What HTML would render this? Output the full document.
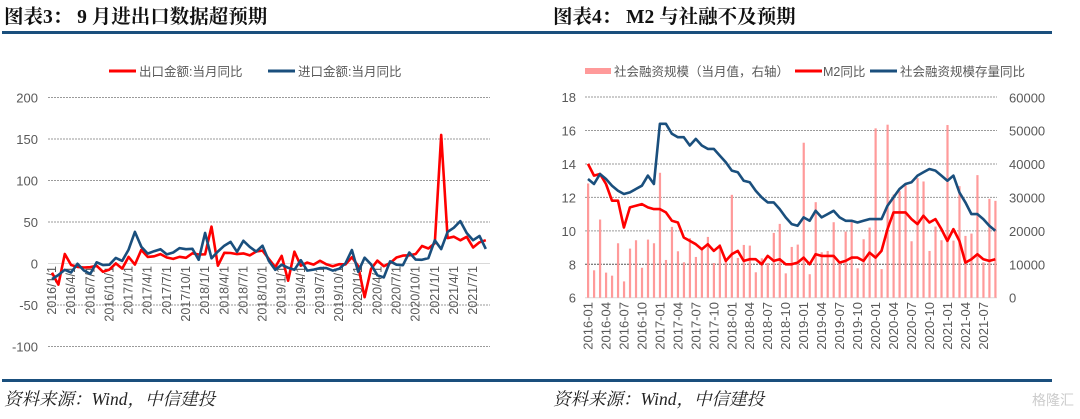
<!DOCTYPE html>
<html><head><meta charset="utf-8">
<style>
html,body{margin:0;padding:0;background:#fff;}
svg{display:block;}
.title{font-family:"Liberation Serif","Noto Serif CJK SC",serif;font-weight:bold;font-size:19.5px;fill:#111;}
.src{font-family:"Liberation Serif","Noto Serif CJK SC",serif;font-style:italic;font-size:17.5px;fill:#222;}
.tick{font-family:"Liberation Sans","Noto Sans CJK SC",sans-serif;font-size:13px;fill:#595959;}
.xt{font-family:"Liberation Sans","Noto Sans CJK SC",sans-serif;font-size:12.5px;fill:#595959;}
.xt2{font-family:"Liberation Sans","Noto Sans CJK SC",sans-serif;font-size:13px;fill:#595959;}
.leg{font-family:"Liberation Sans","Noto Sans CJK SC",sans-serif;font-size:12.5px;fill:#595959;}
</style></head>
<body>
<svg id="svg" width="1080" height="419" viewBox="0 0 1080 419" xmlns="http://www.w3.org/2000/svg">
  <text class="title" x="4" y="23">图表3：  9 月进出口数据超预期</text>
  <rect x="2" y="31" width="540" height="3" fill="#1a4f7d"/>
  <text class="title" x="553" y="23">图表4：  M2 与社融不及预期</text>
  <rect x="540" y="31" width="512" height="3" fill="#1a4f7d"/>
  <rect x="2" y="379" width="540" height="3" fill="#1a4f7d"/>
  <rect x="540" y="379" width="512" height="3" fill="#1a4f7d"/>
  <text class="src" x="4" y="405">资料来源：Wind，中信建投</text>
  <text class="src" x="553" y="405">资料来源：Wind，中信建投</text>
  <text x="1032" y="405" font-family="Liberation Sans,Noto Sans CJK SC,sans-serif" font-size="14" fill="#ccc">格隆汇</text>

  <g>
    <line x1="109" y1="71" x2="136" y2="71" stroke="#ff0000" stroke-width="3"/>
    <text class="leg" x="139" y="76">出口金额:当月同比</text>
    <line x1="268" y1="71" x2="295" y2="71" stroke="#1a4f7d" stroke-width="3"/>
    <text class="leg" x="298" y="76">进口金额:当月同比</text>
  </g>
  <g>
    <rect x="585" y="68" width="26" height="6" fill="#ff9a9a"/>
    <text class="leg" x="614" y="76">社会融资规模（当月值，右轴）</text>
    <line x1="795" y1="71" x2="822" y2="71" stroke="#ff0000" stroke-width="3"/>
    <text class="leg" x="823" y="76">M2同比</text>
    <line x1="870" y1="71" x2="897" y2="71" stroke="#1a4f7d" stroke-width="3"/>
    <text class="leg" x="900" y="76">社会融资规模存量同比</text>
  </g>
  <g id="left"></g>
  <g id="right"></g>
</svg>
<script>
// ---- Left chart data ----
const leftStartYear = 2016;
const exportYoY = [-11.2,-25.4,11.5,-1.8,-4.1,-4.8,-4.4,-2.8,-10,-7.3,0.1,-6.1,
 7.9,-1.3,16.4,8,8.7,11.3,7.2,5.5,8.1,6.9,12.3,10.9,
 11.1,44.5,-2.7,12.9,12.6,11.3,12.2,9.8,14.5,15.6,5.4,-4.4,
 9.1,-20.7,14.2,-2.7,1.1,-1.3,3.3,-1,-3.2,-0.9,-1.1,7.6,
 -3,-40.6,-6.6,3.5,-3.3,0.5,7.2,9.5,9.9,11.4,21.1,18.1,
 24.4,154.9,30.6,32.3,27.9,32.2,19.3,25.6,28.1];
const importYoY = [-18.8,-13.8,-7.6,-10.9,-0.4,-8.4,-12.5,1.5,-1.9,-1.4,6.7,3.1,
 16.7,38.1,20.3,11.9,14.8,17.2,11,13.3,18.6,17.2,17.7,4.5,
 36.9,6.3,14.4,21.5,26,14.1,27.3,20,14.3,21.4,3,-7.6,
 -1.5,-5.2,-7.6,4,-8.5,-7.3,-5.6,-5.6,-8.5,-6.4,0.3,16.3,
 -10,7,-1,-14.2,-16.7,2.7,-1.4,-2.1,13.2,4.7,4.5,6.5,
 28,17.3,38.1,43.1,51.1,36.7,28.1,33.1,17.6];
const leftYTicks = [200,150,100,50,0,-50,-100];
const leftXLabels = ["2016/1/1","2016/4/1","2016/7/1","2016/10/1","2017/1/1","2017/4/1","2017/7/1","2017/10/1","2018/1/1","2018/4/1","2018/7/1","2018/10/1","2019/1/1","2019/4/1","2019/7/1","2019/10/1","2020/1/1","2020/4/1","2020/7/1","2020/10/1","2021/1/1","2021/4/1","2021/7/1"];

// ---- Right chart data ----
const m2YoY = [14.0,13.3,13.4,12.8,11.8,11.8,10.2,11.4,11.5,11.6,11.4,11.3,
 11.3,11.1,10.6,10.5,9.6,9.4,9.2,8.9,9.2,8.8,9.1,8.2,
 8.6,8.8,8.2,8.3,8.3,8.0,8.5,8.2,8.3,8.0,8.0,8.1,
 8.4,8.0,8.6,8.5,8.5,8.5,8.1,8.2,8.4,8.4,8.2,8.7,
 8.4,8.8,10.1,11.1,11.1,11.1,10.7,10.4,10.9,10.5,10.7,10.1,
 9.4,10.1,9.4,8.1,8.3,8.6,8.3,8.2,8.3];
const tsfStockYoY = [13.1,12.8,13.4,13.1,12.7,12.4,12.2,12.3,12.5,12.7,13.3,12.8,
 16.4,16.4,15.8,15.6,15.6,15.1,15.5,15.1,14.9,14.9,14.5,14.1,
 13.6,13.5,13.0,12.9,12.4,12.0,11.7,11.7,11.3,10.8,10.4,10.3,
 10.8,10.6,11.2,10.8,11.0,11.2,10.8,10.6,10.6,10.5,10.6,10.7,
 10.7,10.7,11.5,12.0,12.5,12.8,12.9,13.3,13.5,13.7,13.6,13.3,
 13.0,13.3,12.3,11.7,11.0,11.0,10.7,10.3,10.0];
const tsfMonthly = [34200,8200,23400,7510,6599,16300,4879,14700,17200,8963,17400,16300,
 37400,11300,21200,13900,10600,17800,12200,14800,18200,10400,16000,11400,
 30800,11900,15800,15600,7608,11800,10400,19400,22100,7288,15200,15900,
 46400,7030,28600,13600,14000,22600,10100,19800,22700,8800,17500,21000,
 50700,8554,51800,30900,31900,34300,16900,35800,34800,14000,21300,17200,
 51700,17100,33400,18500,19200,36700,10600,29600,29000];
const rightLeftTicks = [18,16,14,12,10,8,6];
const rightRightTicks = [60000,50000,40000,30000,20000,10000,0];
const rightXLabels = ["2016-01","2016-04","2016-07","2016-10","2017-01","2017-04","2017-07","2017-10","2018-01","2018-04","2018-07","2018-10","2019-01","2019-04","2019-07","2019-10","2020-01","2020-04","2020-07","2020-10","2021-01","2021-04","2021-07"];

const NS = "http://www.w3.org/2000/svg";
function mk(tag, attrs, parent){const e=document.createElementNS(NS,tag);for(const k in attrs)e.setAttribute(k,attrs[k]);parent.appendChild(e);return e;}

// Left axes
const L = document.getElementById('left');
const lx = i => 52 + i*6.38;
const ly = v => 263.5 - v*0.83;
leftYTicks.forEach(v=>{
  const g = mk('line',{x1:48,x2:490,y1:ly(v),y2:ly(v),stroke:v===0?'#d9d9d9':'#9a9a9a','stroke-width':1,'stroke-dasharray':v===0?'':'2,1'},L);
  
  
  const t = mk('text',{x:38,y:ly(v)+5,'text-anchor':'end',class:'tick'},L);
  t.textContent = v;
  
  
});
leftXLabels.forEach((s,k)=>{
  const x = lx(k*3)+4;
  const t = mk('text',{x:0,y:0,'text-anchor':'end',class:'xt',transform:`translate(${x},266) rotate(-90)`},L);
  t.textContent = s;
  
  
});
function series(parent,arr,xf,yf,color,name){
  const p = mk('polyline',{points:arr.map((v,i)=>xf(i).toFixed(1)+','+yf(v).toFixed(1)).join(' '),fill:'none',stroke:color,'stroke-width':2.6,'stroke-linejoin':'round'},parent);
  
  
}
series(L,exportYoY,lx,ly,'#ff0000','export-yoy-line');
series(L,importYoY,lx,ly,'#1a4f7d','import-yoy-line');

// Right axes
const R = document.getElementById('right');
const rx = i => 588 + i*5.99;
const ryL = v => 297.7 - (v-6)*16.72;
const ryR = v => 297.7 - v*200.4/60000;
rightLeftTicks.forEach((v,k)=>{
  if(v!==6){
    const g = mk('line',{x1:585,x2:997,y1:ryL(v),y2:ryL(v),stroke:v===8?'#555':'#9a9a9a','stroke-width':1,'stroke-dasharray':'2,1'},R);
    
    
  }
  const t = mk('text',{x:576,y:ryL(v)+5,'text-anchor':'end',class:'tick'},R);
  t.textContent = v;
  
  
});
rightRightTicks.forEach(v=>{
  const t = mk('text',{x:1009,y:ryR(v)+5,class:'tick'},R);
  t.textContent = v;
  
  
});
const ax = mk('line',{x1:585,x2:997,y1:297.7,y2:297.7,stroke:'#d9d9d9','stroke-width':1},R);


tsfMonthly.forEach((v,i)=>{
  const r = mk('rect',{x:rx(i)-1,y:ryR(v),width:2.2,height:297.7-ryR(v),fill:'#ff9a9a'},R);
  
  
});
rightXLabels.forEach((s,k)=>{
  const x = rx(k*3)+4.5;
  const t = mk('text',{x:0,y:0,'text-anchor':'end',class:'xt2',transform:`translate(${x},302) rotate(-90)`},R);
  t.textContent = s;
  
  
});
series(R,m2YoY,rx,ryL,'#ff0000','m2-yoy-line');
series(R,tsfStockYoY,rx,ryL,'#1a4f7d','tsf-stock-yoy-line');
</script>
</body></html>
